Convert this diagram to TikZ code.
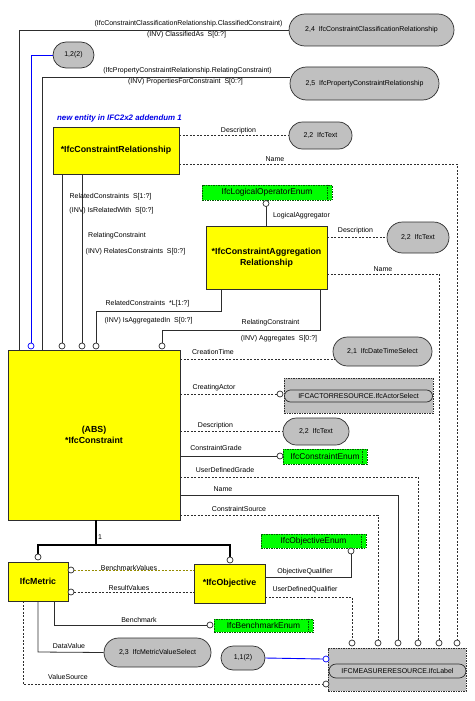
\documentclass[tikz,border=0pt]{standalone}
\usepackage{fontspec}
\setmainfont{Liberation Sans}
\usetikzlibrary{shapes.misc}
\definecolor{ybox}{RGB}{255,255,0}
\definecolor{gbox}{RGB}{0,255,0}
\definecolor{gfr}{RGB}{0,90,0}
\definecolor{grayf}{RGB}{192,192,192}
\definecolor{lin}{RGB}{45,45,45}
\definecolor{blu}{RGB}{0,0,255}
\definecolor{olv}{RGB}{150,140,0}
\definecolor{nblue}{RGB}{0,0,230}
\begin{document}
\begin{tikzpicture}[x=1pt,y=-1pt,
  lbl/.style={font=\fontsize{7}{8}\selectfont, inner sep=0pt},
  ent/.style={draw=lin, fill=ybox, line width=0.8pt, font=\fontsize{8.8}{10.5}\selectfont\bfseries, align=center, inner sep=0pt},
  refn/.style={rounded rectangle, draw=lin, fill=grayf, line width=0.7pt, font=\fontsize{7}{8}\selectfont, inner sep=0pt},
  enumbox/.style={draw=gfr, fill=gbox, dash pattern=on 1.5pt off 1pt, line width=0.8pt, font=\fontsize{8.4}{9}\selectfont, inner sep=0pt},
  extbox/.style={draw=lin, fill=grayf, dash pattern=on 1.5pt off 1pt, line width=0.8pt, inner sep=0pt},
  extin/.style={rounded rectangle, draw=lin, line width=0.7pt, font=\fontsize{7}{8}\selectfont, inner sep=0pt},
  oc/.style={circle, draw=lin, fill=white, minimum size=6pt, inner sep=0pt, line width=0.7pt},
  ln/.style={draw=lin, line width=0.8pt},
  dl/.style={draw=lin, line width=0.8pt, dash pattern=on 2pt off 1.5pt},
  thk/.style={draw=black, line width=2.4pt}
]
\path[use as bounding box] (0,0) rectangle (474,701);

% ---------- reference ovals ----------
\node[refn, minimum width=165pt, minimum height=32pt] (e24) at (371.5,30) {2,4\ \ IfcConstraintClassificationRelationship};
\node[refn, minimum width=149pt, minimum height=33pt] (e25) at (364.5,83.5) {2,5\ \ IfcPropertyConstraintRelationship};
\node[refn, minimum width=41pt, minimum height=26pt] (e12) at (73.5,55) {1,2(2)};
\node[refn, minimum width=63pt, minimum height=27pt] (t22a) at (320.5,135.5) {2,2\ \ IfcText};
\node[refn, minimum width=62pt, minimum height=31pt] (t22b) at (418,237.5) {2,2\ \ IfcText};
\node[refn, minimum width=99pt, minimum height=29pt] (dts) at (382.5,351.5) {2,1\ \ IfcDateTimeSelect};
\node[refn, minimum width=66pt, minimum height=27pt] (t22c) at (316,431.5) {2,2\ \ IfcText};
\node[refn, minimum width=107pt, minimum height=29pt] (mvs) at (157.5,652.5) {2,3\ \ IfcMetricValueSelect};
\node[refn, minimum width=44pt, minimum height=24pt] (e11) at (243,658) {1,1(2)};

% ---------- entities ----------
\node[ent, minimum width=126pt, minimum height=47pt] (crel) at (116,150.5) {*IfcConstraintRelationship};
\node[ent, minimum width=121pt, minimum height=63pt] (agg) at (266.5,257.5) {*IfcConstraintAggregation\\Relationship};
\node[ent, minimum width=172pt, minimum height=170pt] (cons) at (94,435) {(ABS)\\*IfcConstraint};
\node[ent, minimum width=60pt, minimum height=39pt] (metric) at (38,581.5) {IfcMetric};
\node[ent, minimum width=71pt, minimum height=39pt] (obj) at (229.5,583.5) {*IfcObjective};

% ---------- enumerations ----------
\node[enumbox, minimum width=130pt, minimum height=15pt] (logenum) at (267,192.5) {IfcLogicalOperatorEnum\hspace{8pt}};
\node[enumbox, minimum width=84pt, minimum height=15pt] (cenum) at (325,456.5) {IfcConstraintEnum\hspace{7pt}};
\node[enumbox, minimum width=105pt, minimum height=14pt] (objenum) at (313.5,541) {IfcObjectiveEnum\hspace{7pt}};
\node[enumbox, minimum width=99pt, minimum height=13pt] (benchenum) at (263.5,625.5) {IfcBenchmarkEnum\hspace{7pt}};
\foreach \e in {logenum,cenum,objenum,benchenum}
  \draw[draw=gfr, dash pattern=on 1.5pt off 1pt, line width=0.8pt] ([xshift=-5pt]\e.north east) -- ([xshift=-5pt]\e.south east);

% ---------- external types ----------
\node[extbox, minimum width=149pt, minimum height=35pt] (actor) at (358.5,395.5) {};
\node[extin, minimum width=148pt, minimum height=12pt] (actorin) at (358.5,396) {IFCACTORRESOURCE.IfcActorSelect};
\node[extbox, minimum width=138pt, minimum height=43pt] (label) at (397,669.5) {};
\node[extin, minimum width=137pt, minimum height=14pt] (labelin) at (397.5,671) {IFCMEASURERESOURCE.IfcLabel};

% ---------- note ----------
\node[font=\fontsize{7.9}{8.5}\selectfont\bfseries\itshape, text=nblue, inner sep=0pt] (note) at (119.5,118) {new entity in IFC2x2 addendum 1};

% ---------- bend coordinates ----------
\coordinate (k1) at (19,30);
\coordinate (k2) at (42,77);
\coordinate (kb) at (31,55);
\coordinate (k3) at (221,311);
\coordinate (k4) at (320,330);
\coordinate (k5) at (457,164);
\coordinate (k6) at (439,274);
\coordinate (kct) at (335,359);
\coordinate (k8) at (418,477);
\coordinate (k9) at (398,495);
\coordinate (k10) at (378,515);
\coordinate (k11) at (96,545);
\coordinate (k12) at (351,577);
\coordinate (k13) at (352,597);
\coordinate (k14) at (54,625);
\coordinate (k15) at (38,652);
\coordinate (k16) at (23,684);

% ---------- connectors (drawn first, circles on top) ----------
\draw[ln] (e24.west) -- (k1) -- (k1 |- cons.north);
\draw[ln] (e25.west |- k2) -- (k2) -- (k2 |- cons.north);
\draw[draw=blu, line width=0.9pt] (e12.west) -- (kb) -- (kb |- 0,343);
\draw[ln] (crel.south -| 62,0) -- (62,343);
\draw[ln] (crel.south -| 82,0) -- (82,343);
\draw[ln] (agg.south -| k3) -- (k3) -- (k3 -| 96,0) -- (96,343);
\draw[ln] (agg.south -| k4) -- (k4) -- (k4 -| 162,0) -- (162,343);
\draw[ln] (266,206) -- (266,0 |- agg.north);
\draw[dl] (crel.east |- t22a.west) -- (t22a.west);
\draw[dl] (crel.east |- k5) -- (k5) -- (457,640);
\draw[dl] (agg.east |- t22b.west) -- (t22b.west);
\draw[dl] (agg.east |- k6) -- (k6) -- (439,640);
\draw[dl] (cons.east |- kct) -- (kct);
\draw[dl] (cons.east |- 0,394) -- (277,394);
\draw[dl] (cons.east |- t22c.west) -- (t22c.west);
\draw[ln] (cons.east |- 0,456) -- (277,456);
\draw[dl] (cons.east |- k8) -- (k8) -- (418,640);
\draw[ln] (cons.east |- k9) -- (k9) -- (398,640);
\draw[dl] (cons.east |- k10) -- (k10) -- (378,640);
\draw[thk] (cons.south -| k11) -- (k11);
\draw[thk, line cap=butt] (38,545) -- (230,545);
\draw[thk] (38,544) -- (38,554);
\draw[thk] (230,544) -- (230,557);
\draw[draw=olv, line width=0.8pt, dash pattern=on 2pt off 1.5pt] (74,570) -- (obj.west |- 0,570);
\draw[dl] (74,592) -- (obj.west |- 0,592);
\draw[ln] (obj.east |- k12) -- (k12) -- (351,554);
\draw[dl] (obj.east |- k13) -- (k13) -- (352,640);
\draw[ln] (metric.south -| k14) -- (k14) -- (207,625);
\draw[ln] (metric.south -| k15) -- (k15) -- (mvs.west);
\draw[dl] (metric.south -| k16) -- (k16) -- (323,684);
\draw[draw=blu, line width=0.9pt] (e11.east) -- (323,659);

% ---------- circles ----------
\node[oc, draw=blu] (cb) at (31,346) {};
\node[oc] (c62) at (62,346) {};
\node[oc] (c82) at (82,346) {};
\node[oc] (c96) at (96,346) {};
\node[oc] (c162) at (162,346) {};
\node[oc] (clog) at (266,203.5) {};
\node[oc] (cact) at (280,394) {};
\node[oc] (cce) at (280,456) {};
\node[oc] (cm) at (38,557) {};
\node[oc] (co) at (230,560) {};
\node[oc] (cbv) at (71,570) {};
\node[oc] (crv) at (71,592) {};
\node[oc] (coq) at (351,551) {};
\node[oc] (cbm) at (210,625) {};
\node[oc] (l1) at (352,643) {};
\node[oc] (l2) at (378,643) {};
\node[oc] (l3) at (398,643) {};
\node[oc] (l4) at (418,643) {};
\node[oc] (l5) at (439,643) {};
\node[oc] (l6) at (457,643) {};
\node[oc, draw=blu] (cel) at (326,659) {};
\node[oc] (cvs) at (326,684) {};

% ---------- labels ----------
\node[lbl] at (188.5,24) {(IfcConstraintClassificationRelationship.ClassifiedConstraint)};
\node[lbl] at (186.5,35) {(INV) ClassifiedAs\ \ S[0:?]};
\node[lbl] at (187.5,71) {(IfcPropertyConstraintRelationship.RelatingConstraint)};
\node[lbl] at (185.5,82) {(INV) PropertiesForConstraint\ \ S[0:?]};
\node[lbl] at (238.5,131) {Description};
\node[lbl] at (275,159) {Name};
\node[lbl] at (301.5,216) {LogicalAggregator};
\node[lbl] at (355.5,231) {Description};
\node[lbl] at (383,269) {Name};
\node[lbl] at (110.5,197) {RelatedConstraints\ \ S[1:?]};
\node[lbl] at (111.5,211) {(INV) IsRelatedWith\ \ S[0:?]};
\node[lbl] at (117,236) {RelatingConstraint};
\node[lbl] at (135.5,252) {(INV) RelatesConstraints\ \ S[0:?]};
\node[lbl] at (147.5,304) {RelatedConstraints\ \ *L[1:?]};
\node[lbl] at (148.5,321) {(INV) IsAggregatedIn\ \ S[0:?]};
\node[lbl] at (270.5,323) {RelatingConstraint};
\node[lbl] at (279,339) {(INV) Aggregates\ \ S[0:?]};
\node[lbl] at (213,352) {CreationTime};
\node[lbl] at (214,388) {CreatingActor};
\node[lbl] at (215.5,426) {Description};
\node[lbl] at (216,448) {ConstraintGrade};
\node[lbl] at (225,470) {UserDefinedGrade};
\node[lbl] at (223,489) {Name};
\node[lbl] at (239,509) {ConstraintSource};
\node[lbl] at (100,537) {1};
\node[lbl] at (129,568) {BenchmarkValues};
\node[lbl] at (129,588) {ResultValues};
\node[lbl] at (305,572) {ObjectiveQualifier};
\node[lbl] at (305,590) {UserDefinedQualifier};
\node[lbl] at (139,620) {Benchmark};
\node[lbl] at (69,646) {DataValue};
\node[lbl] at (68,677) {ValueSource};
\end{tikzpicture}
\end{document}
